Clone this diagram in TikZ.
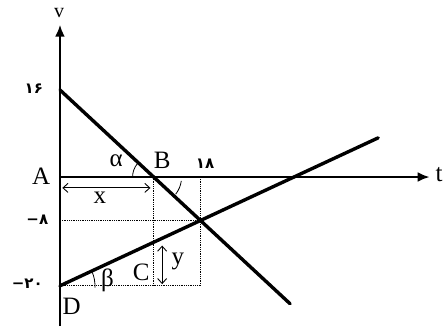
\documentclass[tikz,border=0pt]{standalone}
\usepackage{fontspec}
\setmainfont{Liberation Serif}
\newfontfamily\persianfont{DejaVu Sans}
\usetikzlibrary{arrows.meta,positioning,calc}

\begin{document}
\begin{tikzpicture}[x=7.8pt,y=5.44pt,>={Latex[length=12pt,width=10pt]},
  axisline/.style={line width=2.8pt},
  graphline/.style={line width=3.4pt},
  guide/.style={densely dotted,line width=0.8pt},
  lbl/.style={font=\fontsize{25}{27}\selectfont,inner sep=0pt},
  num/.style={font=\persianfont\bfseries\fontsize{15}{17}\selectfont,inner sep=0pt},
  barb/.style={line width=0.9pt,{Straight Barb[length=5pt,width=9pt]}-{Straight Barb[length=5pt,width=9pt]}}]
  \useasboundingbox (-7.69,32.54) rectangle (49.62,-27.94);
  % points of the graph
  \coordinate (A) at (0,0);
  \coordinate (vbot) at (0,-27.4);
  \coordinate (vtop) at (0,28);
  \coordinate (tend) at (47.4,0);
  \coordinate (P) at (0,16);
  \coordinate (Q) at (29.5,-23.3);
  \coordinate (D) at (0,-20);
  \coordinate (R) at (40.8,7.2);
  \coordinate (B) at (12,0);
  \coordinate (T) at (18,0);
  \coordinate (M) at (18,-8);
  \coordinate (N) at (0,-8);
  \coordinate (Bf) at (12,-20);
  \coordinate (Tf) at (18,-20);
  % dotted guides
  \draw[guide] (B) -- (Bf);
  \draw[guide] (T) -- (Tf);
  \draw[guide] (N) -- (M);
  \draw[guide] (D) -- (Tf);
  % axes
  \draw[axisline,->] (vbot) -- (vtop);
  \draw[axisline,->] (A) -- (tend);
  % the two lines
  \draw[graphline,line cap=round] (P) -- (Q);
  \draw[graphline,line cap=round] (D) -- (R);
  % angles
  \draw[line width=0.8pt] ([shift={(180:21pt)}]B) arc[start angle=180,end angle=140,radius=21pt];
  \draw[line width=0.8pt] ([shift={(-8:28pt)}]B) arc[start angle=-8,end angle=-38,radius=28pt];
  \draw[line width=0.8pt] ([shift={(-3:35pt)}]D) arc[start angle=-3,end angle=24,radius=35pt];
  % x and y
  \coordinate (xa) at (0.3,-2);
  \coordinate (xb) at (11.6,-2);
  \draw[barb] (xa) -- (xb);
  \coordinate (ya) at (13.1,-12.6);
  \coordinate (yb) at (13.1,-19.7);
  \draw[barb] (ya) -- (yb);
  % labels
  \node[font=\fontsize{20}{22}\selectfont,inner sep=0pt] (vlab) at (-0.1,30.1) {v};
  \node[lbl] (tlab) at (48.6,0.4) {t};
  \node[lbl] (Alab) at (-2.4,0.2) {A};
  \node[lbl] (Blab) at (13.1,3.1) {B};
  \node[lbl] (Clab) at (10.4,-17.5) {C};
  \node[lbl] (Dlab) at (1.5,-23.7) {D};
  \node[lbl] (xlab) at (5.1,-3.9) {x};
  \node[lbl] (ylab) at (15.1,-15.6) {y};
  \node[lbl] (alab) at (7.2,3.0) {α};
  \node[lbl] (blab) at (6.1,-19.0) {β};
  \node[num] (n16) at (-3.35,16.3) {۱۶};
  \node[num] (n18) at (18.6,2.4) {۱۸};
  \node[num] (n8) at (-2.9,-7.8) {−۸};
  \node[num] (n20) at (-4.2,-19.6) {−۲۰};
\end{tikzpicture}
\end{document}
